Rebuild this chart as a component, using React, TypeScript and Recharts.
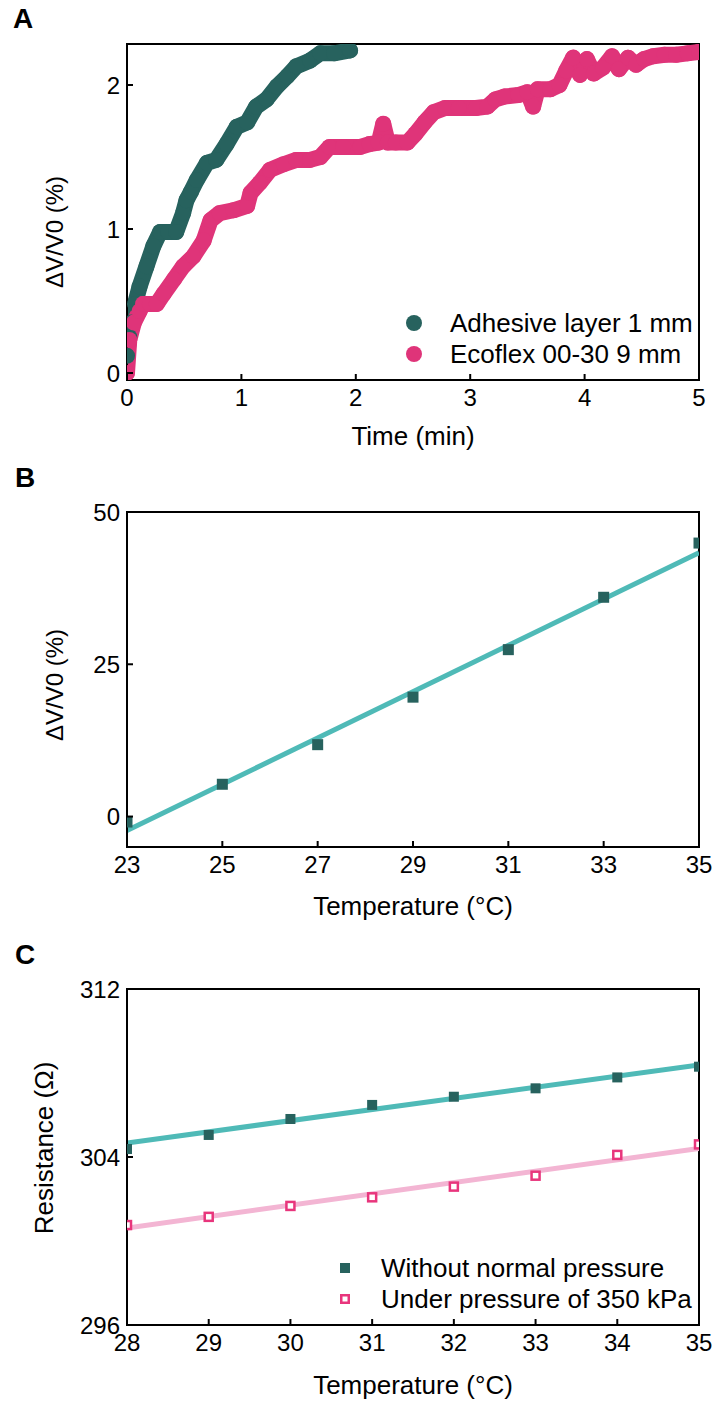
import React from 'react';
import { ComposedChart, Line, Scatter, XAxis, YAxis, ReferenceArea, Legend } from 'recharts';

const FONT = '"Liberation Sans", Arial, Helvetica, sans-serif';
const TEAL = '#27625e';
const PINK = '#df3479';
const FIT_TEAL = '#4fbab7';
const FIT_PINK = '#f3b5d3';
const HOLLOW_PINK = '#e8357c';

// ---------- Panel A ----------
const adhesiveTime = [0, 0.02, 0.04, 0.07, 0.11, 0.17, 0.23, 0.29, 0.36, 0.43, 0.49, 0.52, 0.56, 0.61, 0.70, 0.78, 0.87, 0.96, 1.05, 1.13, 1.22, 1.31, 1.40, 1.48, 1.60, 1.69, 1.81, 1.95];
const adhesiveValue = [0.12, 0.25, 0.35, 0.48, 0.60, 0.74, 0.88, 0.98, 0.98, 0.98, 1.11, 1.20, 1.26, 1.34, 1.46, 1.48, 1.59, 1.71, 1.74, 1.85, 1.90, 1.99, 2.06, 2.13, 2.17, 2.22, 2.22, 2.24];
const ecoflexTime = [0, 0.02, 0.06, 0.11, 0.14, 0.20, 0.26, 0.32, 0.41, 0.49, 0.58, 0.67, 0.73, 0.81, 0.93, 1.05, 1.08, 1.16, 1.25, 1.37, 1.48, 1.60, 1.69, 1.77, 1.89, 2.04, 2.12, 2.20, 2.24, 2.28, 2.35, 2.45, 2.52, 2.60, 2.68, 2.78, 2.90, 3.05, 3.15, 3.22, 3.30, 3.42, 3.50, 3.55, 3.59, 3.70, 3.78, 3.84, 3.90, 3.96, 4.02, 4.08, 4.16, 4.24, 4.30, 4.38, 4.45, 4.52, 4.60, 4.70, 4.80, 4.90, 5.00];
const ecoflexValue = [0.0, 0.23, 0.35, 0.43, 0.48, 0.48, 0.48, 0.55, 0.65, 0.74, 0.81, 0.92, 1.06, 1.11, 1.13, 1.16, 1.25, 1.32, 1.41, 1.45, 1.48, 1.48, 1.50, 1.57, 1.57, 1.57, 1.59, 1.60, 1.73, 1.60, 1.60, 1.60, 1.66, 1.74, 1.81, 1.84, 1.84, 1.84, 1.85, 1.90, 1.92, 1.93, 1.95, 1.85, 1.97, 1.97, 2.00, 2.10, 2.19, 2.07, 2.18, 2.08, 2.12, 2.20, 2.11, 2.19, 2.14, 2.18, 2.20, 2.21, 2.21, 2.22, 2.23];
const timeDomain = [0, 5];
const ratioDomainA = [-0.0486, 2.2847];
const timeTicks = [0, 1, 2, 3, 4, 5];
const ratioTicksA = [0, 1, 2];
const legendA = ['Adhesive layer 1 mm', 'Ecoflex 00-30 9 mm'];

// ---------- Panel B ----------
const tempB = [23, 25, 27, 29, 31, 33, 35];
const ratioB = [-0.9, 5.3, 11.8, 19.6, 27.4, 36.0, 44.9];
const fitTempB = [23, 35];
const fitRatioB = [-2.3, 43.3];
const tempDomainB = [23, 35];
const ratioDomainB = [-5, 50];
const tempTicksB = [23, 25, 27, 29, 31, 33, 35];
const ratioTicksB = [0, 25, 50];

// ---------- Panel C ----------
const tempC = [28, 29, 30, 31, 32, 33, 34, 35];
const resNoPressure = [304.38, 305.05, 305.81, 306.48, 306.87, 307.27, 307.79, 308.30];
const resPressure = [300.76, 301.15, 301.67, 302.08, 302.59, 303.11, 304.10, 304.60];
const fitTempC = [28, 35];
const fitNoPressure = [304.67, 308.38];
const fitPressure = [300.62, 304.41];
const tempDomainC = [28, 35];
const resDomain = [296, 312];
const tempTicksC = [28, 29, 30, 31, 32, 33, 34, 35];
const resTicks = [296, 304, 312];
const legendC = ['Without normal pressure', 'Under pressure of 350 kPa'];

const toPoints = (xs: number[], ys: number[]) => xs.map((t, i) => ({ t, v: ys[i] }));

const Y_GAP = 7;
const X_GAP = 9;
const TICK_LEN = 6;
const TICK_FS = 24;
const TITLE_FS = 26;

const YTick = (props: any) => {
  const { x, y, payload } = props;
  return (
    <g>
      <line x1={x + Y_GAP} x2={x + Y_GAP + TICK_LEN} y1={y} y2={y} stroke="#000" strokeWidth={2} />
      <text x={x} y={y} dy="0.355em" textAnchor="end" fontSize={TICK_FS} fontFamily={FONT} fill="#000">
        {payload.value}
      </text>
    </g>
  );
};

const XTick = (props: any) => {
  const { x, y, payload } = props;
  return (
    <g>
      <line x1={x} x2={x} y1={y - X_GAP} y2={y - X_GAP - TICK_LEN} stroke="#000" strokeWidth={2} />
      <text x={x} y={y} dy="0.71em" textAnchor="middle" fontSize={TICK_FS} fontFamily={FONT} fill="#000">
        {payload.value}
      </text>
    </g>
  );
};

const squareShape = (size: number, fill: string) => (props: any) => {
  const { cx, cy } = props;
  return <rect x={cx - size / 2} y={cy - size / 2} width={size} height={size} fill={fill} />;
};

const hollowShape = (size: number, stroke: string) => (props: any) => {
  const { cx, cy } = props;
  const s = size - 2.5;
  return <rect x={cx - s / 2} y={cy - s / 2} width={s} height={s} fill="#fff" stroke={stroke} strokeWidth={2.5} />;
};

const Txt = ({ x, y, text, size, bold, rotate }: any) => (
  <div
    style={{
      position: 'absolute',
      left: x,
      top: y,
      transform: `translate(-50%, -50%)${rotate ? ' rotate(-90deg)' : ''}`,
      fontSize: size,
      fontWeight: bold ? 700 : 400,
      lineHeight: 1,
      whiteSpace: 'nowrap',
      fontFamily: FONT,
      color: '#000',
    }}
  >
    {text}
  </div>
);

const LegendRows = ({ rows }: { rows: { label: string; marker: React.ReactNode }[] }) => (
  <div style={{ fontFamily: FONT, fontSize: 26, color: '#000' }}>
    {rows.map((r) => (
      <div key={r.label} style={{ display: 'flex', alignItems: 'center', height: 31, whiteSpace: 'nowrap' }}>
        <svg width={20} height={20} style={{ display: 'block' }}>{r.marker}</svg>
        <span style={{ marginLeft: 26, lineHeight: 1 }}>{r.label}</span>
      </div>
    ))}
  </div>
);

const W = 717;
const PLOT_LEFT = 127;
const PLOT_RIGHT_MARGIN = 18;

const axisLine = { stroke: '#000', strokeWidth: 2 };

const Frame = (xd: number[], yd: number[]) => (
  <ReferenceArea x1={xd[0]} x2={xd[1]} y1={yd[0]} y2={yd[1]} stroke="#000" strokeWidth={2} fill="none" fillOpacity={0} ifOverflow="visible" />
);

function PanelA() {
  const adhesive = toPoints(adhesiveTime, adhesiveValue);
  const ecoflex = toPoints(ecoflexTime, ecoflexValue);
  return (
    <ComposedChart width={W} height={465} margin={{ top: 44, right: PLOT_RIGHT_MARGIN, bottom: 45, left: 0 }}>
      <XAxis type="number" dataKey="t" domain={timeDomain} ticks={timeTicks} allowDataOverflow
        tickLine={false} tickSize={0} tickMargin={X_GAP} axisLine={axisLine} tick={XTick} height={40} />
      <YAxis type="number" dataKey="v" domain={ratioDomainA} ticks={ratioTicksA} allowDataOverflow
        tickLine={false} tickSize={0} tickMargin={Y_GAP} axisLine={axisLine} tick={YTick} width={PLOT_LEFT} />
      {Frame(timeDomain, ratioDomainA)}
      <Line data={adhesive} dataKey="v" stroke={TEAL} strokeWidth={16} strokeLinejoin="round" strokeLinecap="round"
        dot={{ r: 8, fill: TEAL, stroke: 'none' }} activeDot={false} isAnimationActive={false} />
      <Line data={ecoflex} dataKey="v" stroke={PINK} strokeWidth={16} strokeLinejoin="round" strokeLinecap="round"
        dot={{ r: 8, fill: PINK, stroke: 'none' }} activeDot={false} isAnimationActive={false} />
      <Legend layout="vertical" align="center" verticalAlign="middle"
        wrapperStyle={{ left: 404, top: 307, width: 'auto', height: 'auto' }}
        content={() => (
          <LegendRows rows={[
            { label: legendA[0], marker: <circle cx={10} cy={10} r={8} fill={TEAL} /> },
            { label: legendA[1], marker: <circle cx={10} cy={10} r={8} fill={PINK} /> },
          ]} />
        )} />
    </ComposedChart>
  );
}

function PanelB() {
  const pts = toPoints(tempB, ratioB);
  const fit = toPoints(fitTempB, fitRatioB);
  return (
    <ComposedChart width={W} height={465} margin={{ top: 47, right: PLOT_RIGHT_MARGIN, bottom: 43, left: 0 }}>
      <XAxis type="number" dataKey="t" domain={tempDomainB} ticks={tempTicksB} allowDataOverflow
        tickLine={false} tickSize={0} tickMargin={X_GAP} axisLine={axisLine} tick={XTick} height={40} />
      <YAxis type="number" dataKey="v" domain={ratioDomainB} ticks={ratioTicksB} allowDataOverflow
        tickLine={false} tickSize={0} tickMargin={Y_GAP} axisLine={axisLine} tick={YTick} width={PLOT_LEFT} />
      {Frame(tempDomainB, ratioDomainB)}
      <Line data={fit} dataKey="v" stroke={FIT_TEAL} strokeWidth={5} dot={false} activeDot={false} isAnimationActive={false} />
      <Scatter data={pts} dataKey="v" fill={TEAL} shape={squareShape(11, TEAL)} isAnimationActive={false} />
    </ComposedChart>
  );
}

function PanelC() {
  const noP = toPoints(tempC, resNoPressure);
  const withP = toPoints(tempC, resPressure);
  const fitNo = toPoints(fitTempC, fitNoPressure);
  const fitP = toPoints(fitTempC, fitPressure);
  return (
    <ComposedChart width={W} height={471} margin={{ top: 59, right: PLOT_RIGHT_MARGIN, bottom: 36, left: 0 }}>
      <XAxis type="number" dataKey="t" domain={tempDomainC} ticks={tempTicksC} allowDataOverflow
        tickLine={false} tickSize={0} tickMargin={X_GAP} axisLine={axisLine} tick={XTick} height={40} />
      <YAxis type="number" dataKey="v" domain={resDomain} ticks={resTicks} allowDataOverflow
        tickLine={false} tickSize={0} tickMargin={Y_GAP} axisLine={axisLine} tick={YTick} width={PLOT_LEFT} />
      {Frame(tempDomainC, resDomain)}
      <Line data={fitNo} dataKey="v" stroke={FIT_TEAL} strokeWidth={5} dot={false} activeDot={false} isAnimationActive={false} />
      <Line data={fitP} dataKey="v" stroke={FIT_PINK} strokeWidth={5} dot={false} activeDot={false} isAnimationActive={false} />
      <Scatter data={noP} dataKey="v" fill={TEAL} shape={squareShape(10, TEAL)} isAnimationActive={false} />
      <Scatter data={withP} dataKey="v" fill="#fff" shape={hollowShape(10.5, HOLLOW_PINK)} isAnimationActive={false} />
      <Legend layout="vertical" align="center" verticalAlign="middle"
        wrapperStyle={{ left: 335, top: 322, width: 'auto', height: 'auto' }}
        content={() => (
          <LegendRows rows={[
            { label: legendC[0], marker: <rect x={5} y={5} width={10} height={10} fill={TEAL} /> },
            { label: legendC[1], marker: <rect x={6.25} y={6.25} width={7.5} height={7.5} fill="#fff" stroke={HOLLOW_PINK} strokeWidth={2.5} /> },
          ]} />
        )} />
    </ComposedChart>
  );
}

export default function App() {
  return (
    <div style={{ position: 'absolute', left: 0, top: 0, width: W, height: 1401, background: '#fff', fontFamily: FONT, overflow: 'hidden' }}>
      <div style={{ position: 'absolute', left: 0, top: 0 }}><PanelA /></div>
      <div style={{ position: 'absolute', left: 0, top: 465 }}><PanelB /></div>
      <div style={{ position: 'absolute', left: 0, top: 930 }}><PanelC /></div>

      <Txt x={23} y={19} text="A" size={28} bold />
      <Txt x={25} y={478} text="B" size={28} bold />
      <Txt x={25} y={955} text="C" size={28} bold />

      <Txt x={55} y={232} text="ΔV/V0 (%)" size={24} rotate />
      <Txt x={55} y={685} text="ΔV/V0 (%)" size={24} rotate />
      <Txt x={44} y={1148} text="Resistance (Ω)" size={TITLE_FS} rotate />

      <Txt x={413} y={436} text="Time (min)" size={TITLE_FS} />
      <Txt x={413} y={906} text="Temperature (°C)" size={TITLE_FS} />
      <Txt x={413} y={1385} text="Temperature (°C)" size={TITLE_FS} />
    </div>
  );
}
